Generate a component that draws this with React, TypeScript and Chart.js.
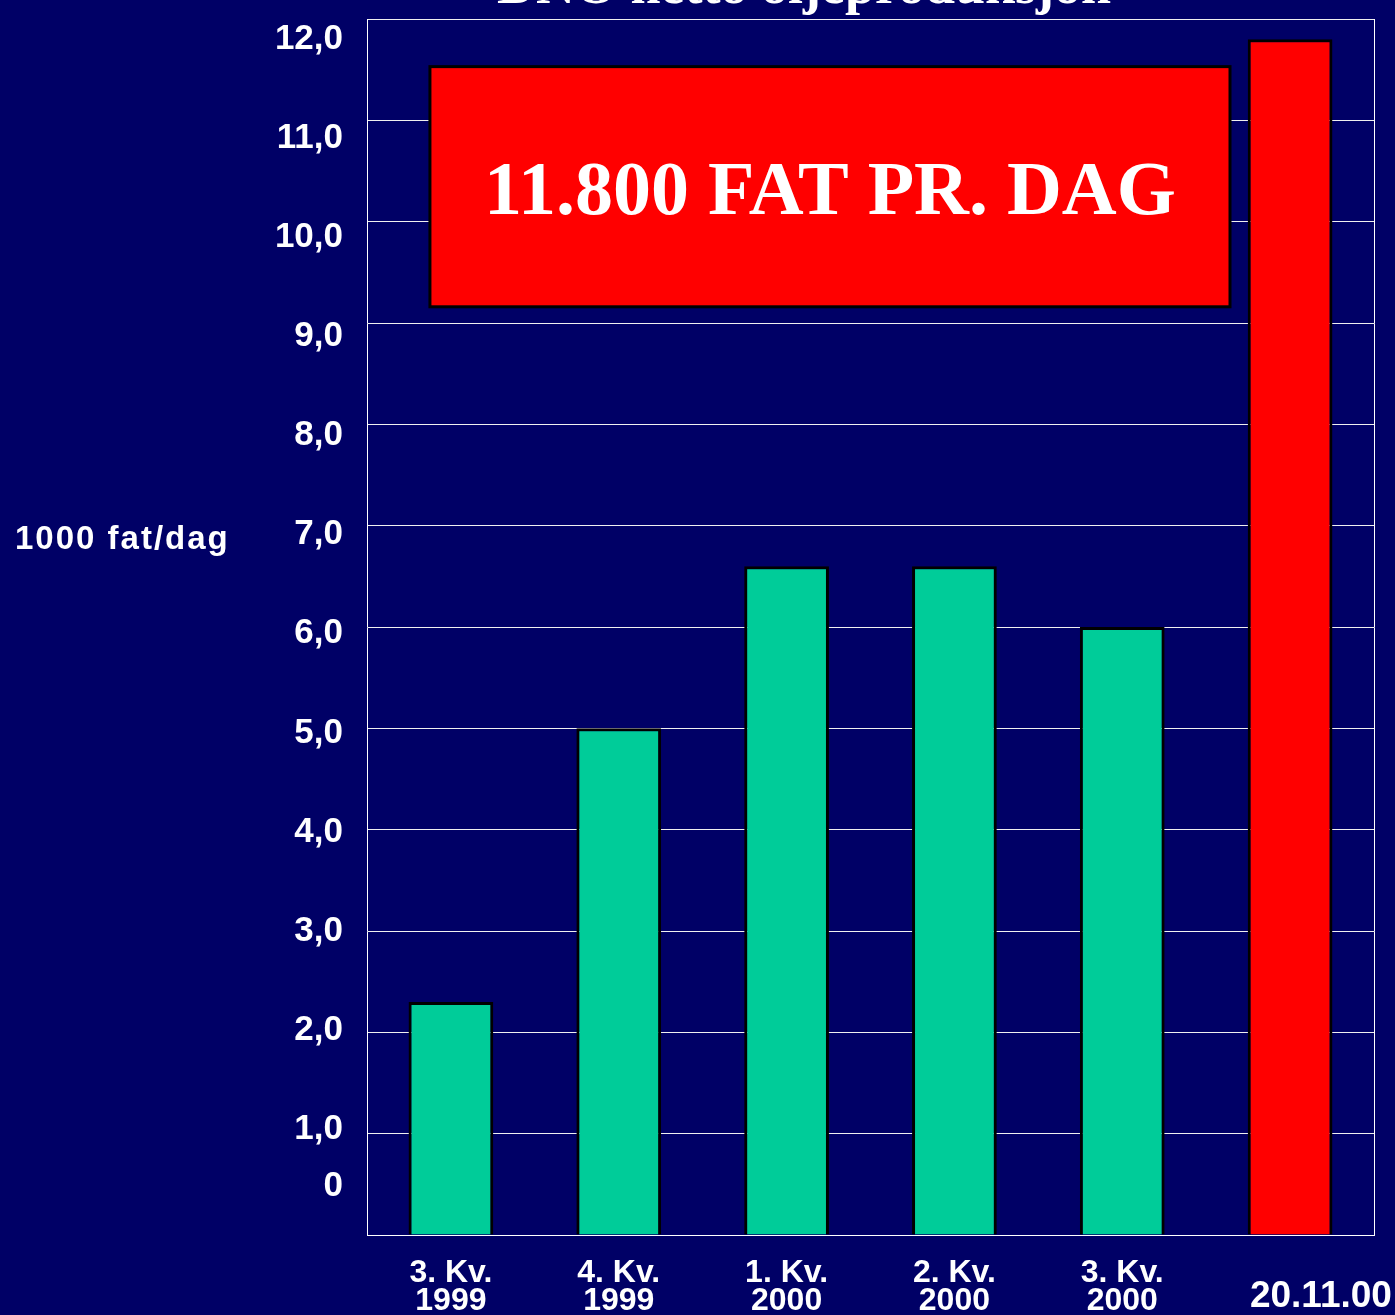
import React, { useEffect, useRef } from 'react';
import { Chart, registerables } from 'chart.js';

Chart.register(...registerables);

// ---- data ----
const categories: string[][] = [
  ['3. Kv.', '1999'],
  ['4. Kv.', '1999'],
  ['1. Kv.', '2000'],
  ['2. Kv.', '2000'],
  ['3. Kv.', '2000'],
  ['', '      20.11.00'],
];
const production = [2.3, 5.0, 6.6, 6.6, 6.0, 11.8];
const barColors = ['#00CC99', '#00CC99', '#00CC99', '#00CC99', '#00CC99', '#FF0000'];
const yTickValues = [0, 1, 2, 3, 4, 5, 6, 7, 8, 9, 10, 11, 12];
const yTickLabels = ['0', '1,0', '2,0', '3,0', '4,0', '5,0', '6,0', '7,0', '8,0', '9,0', '10,0', '11,0', '12,0'];
const titleText = 'DNO netto oljeproduksjon';
const yAxisTitle = '1000 fat/dag';
const calloutText = '11.800 FAT PR. DAG';

const SANS = '"Liberation Sans", Arial, sans-serif';
const SERIF = '"Liberation Serif", "Times New Roman", serif';
const BG = '#000066';

const backgroundPlugin = {
  id: 'bg',
  beforeDraw(chart: any) {
    const ctx = chart.ctx;
    ctx.save();
    ctx.fillStyle = BG;
    ctx.fillRect(0, 0, chart.width, chart.height);
    ctx.restore();
  },
};

const overlayPlugin = {
  id: 'overlay',
  afterDraw(chart: any) {
    const ctx = chart.ctx;
    const xs = chart.scales.x;
    const ys = chart.scales.y;
    ctx.save();
    // callout box
    const left = xs.getPixelForValue(-0.125);
    const right = xs.getPixelForValue(4.642);
    const top = ys.getPixelForValue(11.53);
    const bottom = ys.getPixelForValue(9.16);
    ctx.fillStyle = '#FF0000';
    ctx.fillRect(left, top, right - left, bottom - top);
    ctx.strokeStyle = '#000000';
    ctx.lineWidth = 3;
    ctx.strokeRect(left, top, right - left, bottom - top);
    ctx.fillStyle = '#FFFFFF';
    ctx.font = `bold 76px ${SERIF}`;
    ctx.textAlign = 'center';
    ctx.textBaseline = 'alphabetic';
    ctx.fillText(calloutText, (left + right) / 2, (top + bottom) / 2 + 27);

    // title (cut off at top)
    ctx.font = `bold 54px ${SERIF}`;
    ctx.fillText(titleText, 804, 3);

    // y-axis title (horizontal)
    ctx.font = `bold 33px ${SANS}`;
    (ctx as any).letterSpacing = '2px';
    ctx.textAlign = 'left';
    ctx.textBaseline = 'middle';
    ctx.fillText(yAxisTitle, 15, 540);
    (ctx as any).letterSpacing = '0px';
    ctx.restore();
  },
};

export default function App() {
  const ref = useRef<HTMLCanvasElement>(null);
  useEffect(() => {
    document.body.style.margin = '0';
    document.body.style.background = BG;
    const chart = new Chart(ref.current as HTMLCanvasElement, {
      type: 'bar',
      data: {
        labels: categories,
        datasets: [
          {
            data: production,
            backgroundColor: barColors,
            borderColor: '#000000',
            borderWidth: 3,
            barPercentage: 0.505,
            categoryPercentage: 1,
            xAxisID: 'x',
            yAxisID: 'y',
          },
        ],
      },
      options: {
        animation: false,
        responsive: false,
        devicePixelRatio: 1,
        layout: { padding: { top: 19, right: 21, bottom: 0, left: 0 } },
        plugins: {
          legend: { display: false },
          tooltip: { enabled: false },
          title: { display: false },
        },
        scales: {
          x: {
            type: 'category',
            offset: true,
            grid: { display: false, drawTicks: false },
            border: { display: true, color: '#FFFFFF', width: 1 },
            ticks: {
              color: '#FFFFFF',
              padding: 25,
              maxRotation: 0,
              autoSkip: false,
              font: (c: any) =>
                c.index === 5
                  ? { family: SANS, size: 37, weight: 'bold', lineHeight: 0.67 }
                  : { family: SANS, size: 32, weight: 'bold', lineHeight: 0.85 },
            },
            afterFit: (s: any) => {
              s.height = 80;
              s.paddingLeft = 0;
              s.paddingRight = 0;
            },
          } as any,
          y: {
            type: 'linear',
            position: 'left',
            weight: 0,
            min: 0,
            max: 12,
            ticks: { display: false, stepSize: 1 },
            grid: { color: '#F0F0F0', lineWidth: 1, drawTicks: false },
            border: { display: true, color: '#FFFFFF', width: 1 },
            afterFit: (s: any) => {
              s.width = 0;
              s.paddingTop = 0;
              s.paddingBottom = 0;
            },
          } as any,
          yLabels: {
            type: 'linear',
            position: 'left',
            weight: 1,
            min: -0.067,
            max: 12.205,
            grid: { display: false, drawTicks: false },
            border: { display: false },
            afterBuildTicks: (s: any) => {
              s.ticks = yTickValues.map((v) => ({ value: v }));
            },
            ticks: {
              color: '#FFFFFF',
              padding: 24,
              autoSkip: false,
              font: { family: SANS, size: 35, weight: 'bold', lineHeight: 1.2 },
              callback: (_v: any, i: number) => (i === 0 ? [yTickLabels[0], '', ''] : yTickLabels[i]),
            },
            afterFit: (s: any) => {
              s.width = 367;
              s.paddingTop = 0;
              s.paddingBottom = 0;
            },
          } as any,
          yRight: {
            type: 'linear',
            position: 'right',
            min: 0,
            max: 12,
            ticks: { display: false },
            grid: { display: false, drawTicks: false },
            border: { display: true, color: '#FFFFFF', width: 1 },
            afterFit: (s: any) => {
              s.width = 0;
              s.paddingTop = 0;
              s.paddingBottom = 0;
            },
          } as any,
        },
      },
      plugins: [backgroundPlugin, overlayPlugin],
    });
    return () => chart.destroy();
  }, []);
  return (
    <div style={{ position: 'fixed', left: 0, top: 0, width: 1395, height: 1315, background: BG }}>
      <canvas ref={ref} width={1395} height={1315} style={{ display: 'block' }} />
    </div>
  );
}
